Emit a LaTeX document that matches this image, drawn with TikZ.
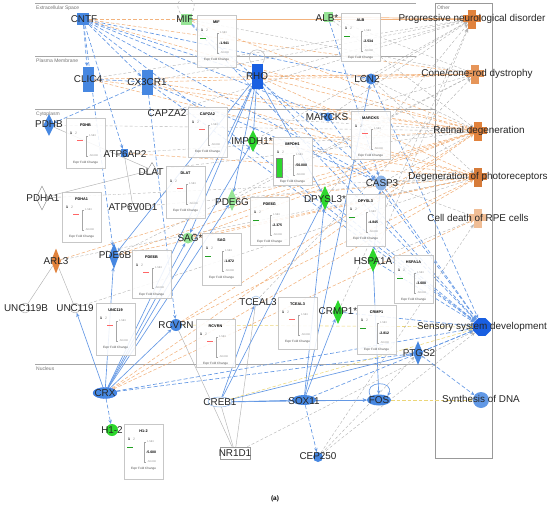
\documentclass[tikz,border=0pt]{standalone}
\usepackage{fontspec}
\setmainfont{Liberation Sans}
\usetikzlibrary{shapes.geometric,arrows.meta}
\pgfdeclarelayer{edges}
\pgfsetlayers{edges,main}
\definecolor{nblue}{RGB}{70,135,225}
\definecolor{ndblue}{RGB}{25,95,225}
\definecolor{nlblue}{RGB}{140,180,232}
\definecolor{ngreen}{RGB}{45,215,45}
\definecolor{nlgreen}{RGB}{150,228,150}
\definecolor{norange}{RGB}{225,130,60}
\definecolor{npeach}{RGB}{240,190,150}
\definecolor{eblue}{RGB}{100,152,228}
\definecolor{eorange}{RGB}{242,178,125}
\definecolor{egray}{RGB}{178,178,178}
\definecolor{eyellow}{RGB}{236,214,120}
\tikzset{
 lbl/.style={font=\fontsize{9.9}{11}\selectfont, inner sep=0pt, text=black!85},
 cmp/.style={font=\fontsize{5}{6}\selectfont, text=black!55, inner sep=0pt, anchor=west},
 gshape/.style={inner sep=0pt, draw=none},
 tip/.style={-{Stealth[length=4pt,width=3.4pt]}},
 dir/.style={tip, draw=eblue, line width=0.65pt},
 ind/.style={tip, draw=eblue, line width=0.65pt, dash pattern=on 4pt off 2.2pt},
 ora/.style={tip, draw=eorange, line width=0.55pt, dash pattern=on 3.5pt off 2pt},
 oras/.style={tip, draw=eorange, line width=0.7pt},
 gry/.style={tip, draw=egray, line width=0.4pt, dash pattern=on 3pt off 2pt},
 gryl/.style={draw=egray, line width=0.45pt},
 yel/.style={tip, draw=eyellow, line width=0.55pt, dash pattern=on 3.5pt off 2pt},
 fcframe/.style={rectangle, draw=black!22, fill=white, fill opacity=0.88, minimum width=39pt, inner sep=0pt, anchor=north west},
 fctitle/.style={font=\fontsize{3.8}{4}\selectfont\bfseries, inner sep=0pt},
 fcnum/.style={font=\fontsize{3.5}{4}\selectfont, inner sep=0pt},
 fcsmall/.style={font=\fontsize{2.6}{3}\selectfont, inner sep=0pt, text=black!45},
 fcval/.style={font=\fontsize{3.5}{4}\selectfont\bfseries, inner sep=0pt},
}
\newcommand\fcbarr[2]{\draw[red!60,line width=0.5pt] ({#1+11},{#2+22}) -- ({#1+17},{#2+22});}
\newcommand\fcbarg[2]{\draw[ngreen!75!black,line width=0.9pt] ({#1+3},{#2+23}) -- ({#1+9},{#2+23});}
\newcommand\fcbarG[2]{\draw[fill=ngreen,draw=black!50,line width=0.2pt] ({#1+3},{#2+21}) rectangle ({#1+9},{#2+40});}
\newcommand\fcbox[7]{%
 \node[fcframe, minimum height=#7pt] (#1) at (#2,#3) {};
 \node[fctitle] (#1t) at ({#2+19.5},{#3+7}) {#4};
 \node[fcnum] (#1a) at ({#2+5},{#3+15}) {\textbf{1}};
 \node[fcnum,text=black!40] (#1b) at ({#2+10},{#3+15}) {2};
 \draw[black!35,line width=0.25pt] ({#2+20},{#3+18}) -- ({#2+20},{#3+38});
 \draw[black!35,line width=0.25pt] ({#2+20},{#3+18}) -- ({#2+22},{#3+18});
 \draw[black!35,line width=0.25pt] ({#2+20},{#3+38}) -- ({#2+22},{#3+38});
 \node[fcsmall,anchor=west] (#1c) at ({#2+23},{#3+18}) {1.583};
 \node[fcsmall,anchor=west] (#1d) at ({#2+23},{#3+38}) {-50.000};
 \node[fcval,anchor=west] (#1e) at ({#2+22},{#3+28}) {#5};
 \csname fcbar#6\endcsname{#2}{#3}
 \node[fcsmall,text=black!70,font=\fontsize{3.1}{3.5}\selectfont] (#1f) at ({#2+19.5},{#3+45}) {Expr Fold Change};
}
\newcommand\fnbar[3]{\fill[#3] ({#1-9},{#2-3.5}) rectangle ({#1+9},{#2+3.5});}
\begin{document}
\begin{tikzpicture}[x=1pt,y=-1pt]
\useasboundingbox (0,0) rectangle (550,509);

% ---------- expression insets ----------
\fcbox{bMIF}{197}{15}{MIF}{-1.941}{g}{52}
\fcbox{bALB}{341}{13}{ALB}{-2.534}{g}{48}
\fcbox{bPDHB}{66}{118}{PDHB}{}{r}{50}
\fcbox{bCAPZA2}{188}{107}{CAPZA2}{}{r}{50}
\fcbox{bIMPDH1}{273}{137}{IMPDH1}{-50.000}{G}{48}
\fcbox{bMARCKS}{351}{111}{MARCKS}{}{r}{48}
\fcbox{bDLAT}{166}{166}{DLAT}{}{r}{52}
\fcbox{bPDHA1}{62}{192}{PDHA1}{}{r}{50}
\fcbox{bPDE6G}{250}{197}{PDE6G}{-2.375}{g}{48}
\fcbox{bDPYSL3}{346}{194}{DPYSL3}{-4.845}{g}{52}
\fcbox{bSAG}{202}{233}{SAG}{-1.872}{g}{52}
\fcbox{bPDE6B}{132}{250}{PDE6B}{}{r}{48}
\fcbox{bUNC119}{96}{303}{UNC119}{}{r}{52}
\fcbox{bTCEAL3}{278}{297}{TCEAL3}{}{r}{52}
\fcbox{bHSPA1A}{394}{255}{HSPA1A}{-3.000}{g}{48}
\fcbox{bCRMP1}{357}{305}{CRMP1}{-2.812}{g}{49}
\fcbox{bRCVRN}{196}{319}{RCVRN}{}{r}{48}
\fcbox{bH12}{124}{424}{H1-2}{-5.000}{g}{55}

% ---------- gene shapes ----------
\node[gshape, rectangle, fill=nblue, minimum width=12pt, minimum height=12pt] (CNTF) at (83,19) {};
\node[gshape, rectangle, fill=nlgreen, minimum width=11pt, minimum height=11pt] (MIF) at (186,19) {};
\node[gshape, rectangle, fill=nlgreen, minimum width=9pt, minimum height=10pt] (ALB) at (328,17) {};
\node[gshape, rectangle, fill=nblue, minimum width=11pt, minimum height=25pt] (CLIC4) at (88,79) {};
\node[gshape, rectangle, fill=nblue, minimum width=11pt, minimum height=25pt] (CX3CR1) at (147,82) {};
\node[gshape, rectangle, fill=ndblue, minimum width=11pt, minimum height=25pt] (RHO) at (257,76) {};
\node[gshape, circle, fill=nblue, minimum size=11pt] (LCN2) at (371,79) {};
\node[gshape, diamond, fill=nblue, minimum width=11pt, minimum height=22pt] (PDHB) at (49,125) {};
\node[gshape, diamond, fill=ngreen, minimum width=11pt, minimum height=22pt] (IMPDH1) at (253,141) {};
\node[gshape, circle, fill=nblue, minimum size=9pt] (MARCKS) at (328,117) {};
\node[gshape, rectangle, fill=nblue, minimum width=7pt, minimum height=8pt] (ATP6AP2) at (124,153) {};
\node[regular polygon, regular polygon sides=3, draw=black!45, fill=white, inner sep=0pt, minimum size=15pt, line width=0.4pt] (DLAT) at (152,170) {};
\node[diamond, draw=black!45, fill=white, inner sep=0pt, minimum width=12pt, minimum height=24pt, line width=0.4pt] (PDHA1) at (42,198) {};
\node[rectangle, draw=black!35, fill=white, inner sep=0pt, minimum width=8pt, minimum height=8pt, line width=0.3pt] (ATP6V0D1) at (133,207) {};
\node[gshape, diamond, fill=nlgreen, minimum width=10pt, minimum height=22pt] (PDE6G) at (232,200) {};
\node[gshape, ellipse, fill=nlblue, minimum width=12pt, minimum height=15pt] (CASP3) at (381,183) {};
\node[gshape, diamond, fill=ngreen, minimum width=11pt, minimum height=24pt] (DPYSL3) at (325,198) {};
\node[gshape, circle, fill=nlgreen, minimum size=11pt] (SAG) at (188,238) {};
\node[gshape, diamond, fill=nblue, minimum width=10pt, minimum height=26pt] (PDE6B) at (114,256) {};
\node[gshape, diamond, fill=norange, minimum width=10pt, minimum height=25pt] (ARL3) at (56,261) {};
\node[circle, draw=black!40, fill=white, inner sep=0pt, minimum size=10pt, line width=0.35pt] (UNC119B) at (25,308) {};
\node[circle, draw=black!40, fill=white, inner sep=0pt, minimum size=10pt, line width=0.35pt] (UNC119) at (75,308) {};
\node[gshape, diamond, fill=ngreen, minimum width=11pt, minimum height=24pt] (HSPA1A) at (373,260) {};
\node[circle, draw=nlblue, fill=white, inner sep=0pt, minimum size=10pt, line width=0.4pt] (TCEAL3) at (256,301) {};
\node[gshape, diamond, fill=ngreen, minimum width=11pt, minimum height=24pt] (CRMP1) at (338,312) {};
\node[gshape, circle, fill=nblue, minimum size=12pt] (RCVRN) at (176,325) {};
\node[gshape, diamond, fill=nblue, minimum width=10pt, minimum height=24pt] (PTGS2) at (418,353) {};
\node[ellipse, fill=nblue, draw=ndblue, line width=0.3pt, inner sep=0pt, minimum width=24pt, minimum height=11pt] (CRX) at (105,393) {};
\node[gshape, circle, fill=ngreen, minimum size=12pt] (H12) at (112,430) {};
\node[ellipse, draw=nlblue, fill=white, line width=0.5pt, inner sep=0pt, minimum width=24pt, minimum height=10pt] (CREB1) at (220,402) {};
\node[rectangle, draw=black!40, fill=white, line width=0.35pt, inner sep=0pt, minimum width=30pt, minimum height=12pt] (NR1D1) at (235,453) {};
\node[ellipse, fill=nblue, inner sep=0pt, minimum width=24pt, minimum height=10pt] (SOX11) at (304,400) {};
\node[ellipse, fill=nblue, inner sep=0pt, minimum width=24pt, minimum height=11pt] (FOS) at (379,400) {};
\node[gshape, circle, fill=nblue, minimum size=10pt] (CEP250) at (318,457) {};

% ---------- function shapes ----------
\node[gshape, rectangle, fill=norange, minimum width=8pt, minimum height=19pt] (PND) at (472,19) {};
\fnbar{472}{18}{norange}
\node[gshape, rectangle, fill=norange!85, minimum width=8pt, minimum height=19pt] (CRD) at (475,74) {};
\fnbar{475}{73}{norange!85}
\node[gshape, rectangle, fill=norange, minimum width=8pt, minimum height=19pt] (RD) at (478,131) {};
\fnbar{478}{130}{norange}
\node[gshape, rectangle, fill=norange!95!black, minimum width=8pt, minimum height=19pt] (DP) at (478,177) {};
\fnbar{478}{176}{norange!95!black}
\node[gshape, rectangle, fill=npeach, minimum width=8pt, minimum height=19pt] (CDR) at (478,218) {};
\fnbar{478}{217}{npeach}
\node[gshape, regular polygon, regular polygon sides=8, fill=ndblue, minimum size=19pt] (SSD) at (482,327) {};
\node[gshape, circle, fill=nblue!85, minimum size=16pt] (SDNA) at (481,400) {};

% ---------- labels ----------
\node[lbl] (lCNTF) at (84,19) {CNTF};
\node[lbl] (lMIF) at (185,19) {MIF};
\node[lbl] (lALB) at (327,18) {ALB*};
\node[lbl] (lCLIC4) at (88,79) {CLIC4};
\node[lbl] (lCX3CR1) at (147,82) {CX3CR1};
\node[lbl] (lRHO) at (257,76) {RHO};
\node[lbl] (lLCN2) at (367,79) {LCN2};
\node[lbl] (lPDHB) at (49,124) {PDHB};
\node[lbl] (lCAPZA2) at (167,113) {CAPZA2};
\node[lbl] (lIMPDH1) at (252,141) {IMPDH1*};
\node[lbl] (lMARCKS) at (327,117) {MARCKS};
\node[lbl] (lATP6AP2) at (125,154) {ATP6AP2};
\node[lbl] (lDLAT) at (151,172) {DLAT};
\node[lbl] (lPDHA1) at (43,198) {PDHA1};
\node[lbl] (lATP6V0D1) at (133,207) {ATP6V0D1};
\node[lbl] (lPDE6G) at (232,202) {PDE6G};
\node[lbl] (lCASP3) at (382,183) {CASP3};
\node[lbl] (lDPYSL3) at (325,199) {DPYSL3*};
\node[lbl] (lSAG) at (190,238) {SAG*};
\node[lbl] (lPDE6B) at (115,255) {PDE6B};
\node[lbl] (lARL3) at (56,261) {ARL3};
\node[lbl] (lUNC119B) at (26,308) {UNC119B};
\node[lbl] (lUNC119) at (75,308) {UNC119};
\node[lbl] (lHSPA1A) at (373,261) {HSPA1A};
\node[lbl] (lTCEAL3) at (258,302) {TCEAL3};
\node[lbl] (lCRMP1) at (338,311) {CRMP1*};
\node[lbl] (lRCVRN) at (176,325) {RCVRN};
\node[lbl] (lPTGS2) at (419,353) {PTGS2};
\node[lbl] (lCRX) at (105,393) {CRX};
\node[lbl] (lH12) at (112,430) {H1-2};
\node[lbl] (lCREB1) at (220,402) {CREB1};
\node[lbl] (lNR1D1) at (235,453) {NR1D1};
\node[lbl] (lSOX11) at (304,401) {SOX11};
\node[lbl] (lFOS) at (379,400) {FOS};
\node[lbl] (lCEP250) at (318,456) {CEP250};
\node[lbl] (lPND) at (472,19) {Progressive neurological disorder};
\node[lbl] (lCRD) at (477,74) {Cone/cone-rod dystrophy};
\node[lbl] (lRD) at (479,131) {Retinal degeneration};
\node[lbl] (lDP) at (478,177) {Degeneration of photoreceptors};
\node[lbl] (lCDR) at (478,218) {Cell death of RPE cells};
\node[lbl] (lSSD) at (482,327) {Sensory system development};
\node[lbl] (lSDNA) at (481,400) {Synthesis of DNA};
\node[font=\fontsize{6.5}{7}\selectfont\bfseries, inner sep=0pt] (cap) at (275,499) {(a)};

% ---------- compartments and edges ----------
\begin{pgfonlayer}{edges}
\draw[black!35, line width=0.6pt] (35,3) -- (416,3);
\draw[black!35, line width=0.6pt] (35,56) -- (416,56);
\draw[black!35, line width=0.6pt] (35,109) -- (435,109);
\draw[black!35, line width=0.6pt] (35,364) -- (435,364);
\draw[black!40, line width=0.6pt] (435,3) rectangle (492,458);
\node[cmp] (cES) at (36,8) {Extracellular Space};
\node[cmp] (cPM) at (36,61) {Plasma Membrane};
\node[cmp] (cCY) at (36,114) {Cytoplasm};
\node[cmp] (cNU) at (36,369) {Nucleus};
\node[cmp] (cOT) at (437,8) {Other};

% CNTF
\foreach \x in {CLIC4,CX3CR1,RHO,ATP6AP2,LCN2,CASP3,SSD,MARCKS,PDE6B} \draw[ind] (CNTF) -- (\x);
\foreach \x in {PND,CRD,RD} \draw[ora] (CNTF) -- (\x);
% MIF
\draw[ora] (MIF) -- (PND);
\draw[ora] (MIF) -- (RD);
\foreach \x in {CASP3,SSD} \draw[ind] (MIF) -- (\x);
\draw[gry] (MIF) -- (CRD);
\draw[gryl, dash pattern=on 3pt off 2pt] (MIF.north west) .. controls +(-12,-20) and +(12,-20) .. (MIF.north east);
% ALB
\draw[oras] (ALB) -- (PND);
\draw[ind] (ALB) -- (CASP3);
\draw[gry] (ALB) -- (CRD);
\draw[gry] (ALB) -- (RD);
% CLIC4
\draw[ind] (CLIC4) -- (CX3CR1);
\foreach \x in {RD,DP,CRD} \draw[ora] (CLIC4) -- (\x);
\draw[gry] (CLIC4) -- (PND);
% CX3CR1
\foreach \x in {PDHB,CASP3,SSD,RCVRN} \draw[ind] (CX3CR1) -- (\x);
\foreach \x in {CRD,RD,DP} \draw[ora] (CX3CR1) -- (\x);
\draw[gry] (CX3CR1) -- (PND);
% RHO
\foreach \x in {IMPDH1,PDE6G,SAG,PDE6B,DPYSL3} \draw[dir] (RHO) -- (\x);
\foreach \x in {RD,DP,CRD} \draw[ora] (RHO) -- (\x);
\draw[gry] (RHO) -- (PND);
\draw[ind] (RHO) -- (SSD);
\draw[gryl] (RHO.north west) .. controls +(-10,-18) and +(10,-18) .. (RHO.north east);
% LCN2
\draw[ora] (LCN2) -- (CRD);
\draw[gry] (LCN2) -- (PND);
\draw[gry] (LCN2) -- (RD);
\draw[gry] (LCN2) -- (DP);
\draw[ind] (LCN2) -- (SSD);
% MARCKS
\draw[gry] (MARCKS) -- (PND);
\draw[gry] (MARCKS) -- (CRD);
\draw[ora] (MARCKS) -- (RD);
\draw[ind] (MARCKS) -- (SSD);
% CAPZA2, PDH complex, ATPases
\draw[gry] (lCAPZA2) -- (RD);
\draw[gry] (lCAPZA2) -- (PND);
\draw[gryl] (PDHB) -- (DLAT);
\draw[gryl] (PDHA1) -- (DLAT);
\draw[gry] (PDHB) -- (RD);
\draw[gry] (PDHA1) -- (DP);
\draw[gry] (DLAT) -- (RD);
\draw[gryl] (ATP6AP2) -- (ATP6V0D1);
\draw[ora] (ATP6AP2) -- (DP);
\draw[gry] (ATP6AP2) -- (RD);
\draw[gry] (ATP6V0D1) -- (DP);
% ARL3, UNC119
\draw[gryl] (ARL3) -- (UNC119B);
\draw[gryl] (ARL3) -- (UNC119);
\draw[ora] (ARL3) -- (RD);
\draw[gry] (ARL3) -- (DP);
\draw[gry] (UNC119) -- (DP);
% photoreceptor genes
\foreach \x in {PDE6G,PDE6B,SAG,IMPDH1} {\draw[ora] (\x) -- (RD); \draw[ora] (\x) -- (DP);}
\draw[gry] (PDE6G) -- (CRD);
\draw[gry] (PDE6B) -- (CRD);
\draw[gry] (IMPDH1) -- (PND);
% DPYSL3, HSPA1A, CASP3, CRMP1, TCEAL3
\draw[ind] (DPYSL3) -- (SSD);
\draw[gry] (DPYSL3) -- (PND);
\draw[dir] (HSPA1A) -- (CASP3);
\draw[ind] (HSPA1A) -- (SSD);
\draw[gry] (HSPA1A) -- (CDR);
\draw[gry] (HSPA1A) -- (PND);
\draw[dir] (HSPA1A) -- (FOS);
\draw[ind] (CASP3) -- (SSD);
\draw[gry] (CASP3) -- (DP);
\draw[gry] (CASP3) -- (CDR);
\draw[gry] (CASP3) -- (RD);
\draw[ind] (CRMP1) -- (SSD);
\draw[gry] (CRMP1) -- (PND);
\draw[gry] (TCEAL3) -- (CRD);
\draw[gryl] (TCEAL3) -- (NR1D1);
% RCVRN
\draw[ora] (RCVRN) -- (RD);
\draw[ora] (RCVRN) -- (DP);
\draw[yel] (RCVRN) -- (SSD);
\draw[gryl] (RCVRN) -- (NR1D1);
% CRX
\foreach \x in {PDE6B,RCVRN,SAG,RHO,PDE6G,IMPDH1,UNC119} \draw[dir] (CRX) -- (\x);
\draw[ind] (CRX) -- (H12);
\draw[ind] (CRX) -- (PTGS2);
\draw[ind] (CRX) -- (SSD);
\draw[ora] (CRX) -- (DP);
\draw[ora] (CRX) -- (RD);
\draw[ora] (CRX) -- (CDR);
% CREB1
\foreach \x in {SOX11,FOS,TCEAL3,DPYSL3,PTGS2} \draw[dir] (CREB1) -- (\x);
\draw[yel] (CREB1) -- (SSD);
\draw[gryl] (CREB1) -- (NR1D1);
\draw[gry] (NR1D1) -- (SSD);
% SOX11
\draw[dir] (SOX11) -- (FOS);
\draw[ind] (SOX11) -- (CEP250);
\draw[dir] (SOX11) -- (DPYSL3);
\draw[dir] (SOX11) -- (CRMP1);
\draw[dir] (SOX11) -- (LCN2);
\draw[ind] (SOX11) -- (SSD);
% FOS
\draw[dir] (FOS.north west) .. controls +(-8,-16) and +(8,-16) .. (FOS.north east);
\draw[yel] (FOS) -- (SDNA);
% PTGS2
\draw[ind] (PTGS2) -- (SDNA);
\draw[ind] (PTGS2) -- (SSD);
% CEP250
\draw[gry] (CEP250) -- (PTGS2);
\draw[gry] (CEP250) -- (SSD);
\draw[gry] (CEP250) -- (CDR);
\end{pgfonlayer}
\end{tikzpicture}
\end{document}
